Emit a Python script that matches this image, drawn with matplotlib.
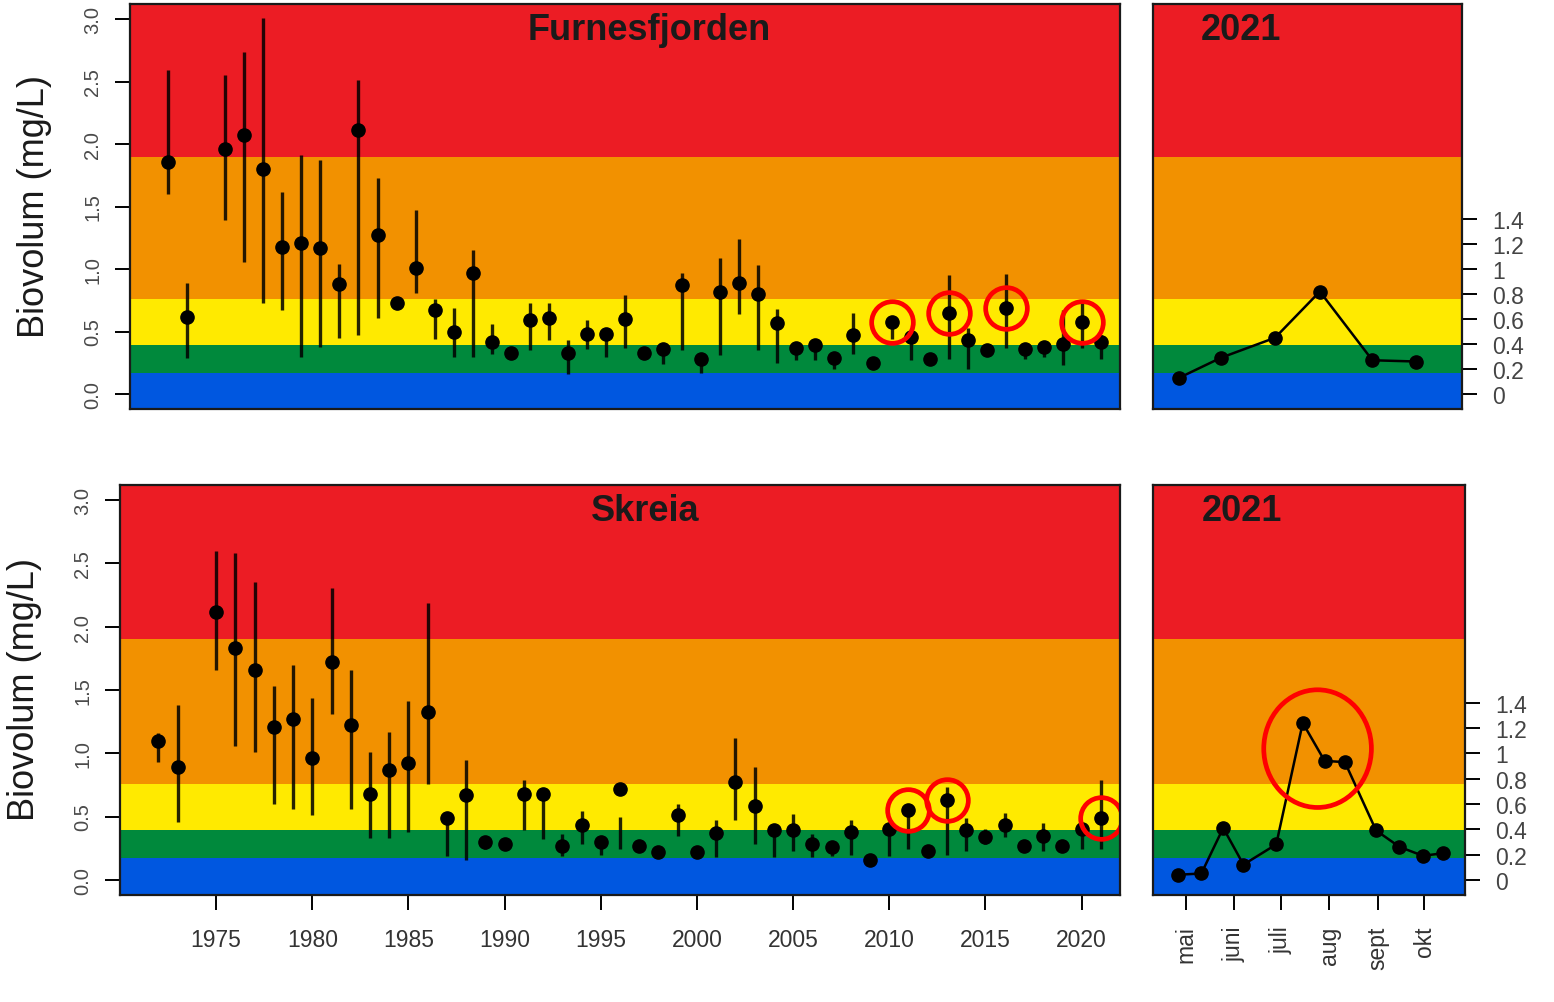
import numpy as np
import matplotlib
matplotlib.use("Agg")
import matplotlib.pyplot as plt
from matplotlib.patches import Ellipse

plt.rcParams['font.family'] = ['Liberation Sans', 'DejaVu Sans']

# klassegrenser for biovolum (mg/L) og farger
grenser = [0.17, 0.39, 0.76, 1.9]
farger = ['#0057E0', '#00893C', '#FFEA00', '#F29100', '#EC1C24']

# Furnesfjorden: årsmiddel med min/maks
aar_f = [1972, 1973] + list(range(1975, 2022))
snitt_f = [1.86, 0.62, 1.96, 2.07, 1.80, 1.18, 1.21, 1.17, 0.88, 2.11, 1.27, 0.73,
           1.01, 0.67, 0.50, 0.97, 0.42, 0.33, 0.59, 0.61, 0.33, 0.48, 0.48, 0.60,
           0.33, 0.36, 0.87, 0.28, 0.82, 0.89, 0.80, 0.57, 0.37, 0.39, 0.29, 0.47,
           0.25, 0.58, 0.46, 0.28, 0.65, 0.43, 0.35, 0.69, 0.36, 0.38, 0.40, 0.58, 0.42]
min_f = [1.60, 0.29, 1.39, 1.06, 0.73, 0.67, 0.30, 0.38, 0.45, 0.47, 0.61, np.nan,
         0.81, 0.44, 0.30, 0.30, 0.32, np.nan, 0.35, 0.43, 0.16, 0.36, 0.30, 0.37,
         np.nan, 0.24, 0.35, 0.17, 0.31, 0.64, 0.35, 0.25, 0.27, 0.27, 0.20, 0.32,
         np.nan, 0.44, 0.27, np.nan, 0.28, 0.20, np.nan, 0.37, 0.28, 0.30, 0.23, 0.37, 0.28]
maks_f = [2.59, 0.89, 2.55, 2.74, 3.01, 1.62, 1.91, 1.87, 1.04, 2.51, 1.73, np.nan,
          1.47, 0.76, 0.69, 1.15, 0.56, np.nan, 0.73, 0.73, 0.43, 0.59, 0.48, 0.79,
          np.nan, 0.41, 0.97, 0.28, 1.09, 1.24, 1.03, 0.68, 0.40, 0.41, 0.29, 0.65,
          np.nan, 0.58, 0.46, np.nan, 0.95, 0.53, np.nan, 0.96, 0.36, 0.42, 0.67, 0.73, 0.47]
merket_f = [2010, 2013, 2016, 2020]

# Skreia
aar_s = [1972, 1973] + list(range(1975, 2022))
snitt_s = [1.10, 0.89, 2.12, 1.83, 1.66, 1.21, 1.27, 0.96, 1.72, 1.22, 0.68, 0.87,
           0.92, 1.33, 0.49, 0.67, 0.30, 0.28, 0.68, 0.68, 0.27, 0.43, 0.30, 0.72,
           0.27, 0.22, 0.51, 0.22, 0.37, 0.77, 0.58, 0.39, 0.39, 0.28, 0.26, 0.38,
           0.16, 0.40, 0.55, 0.23, 0.63, 0.39, 0.34, 0.43, 0.27, 0.35, 0.27, 0.40, 0.49]
min_s = [0.93, 0.46, 1.66, 1.06, 1.01, 0.60, 0.56, 0.51, 1.31, 0.56, 0.33, 0.33,
         0.38, 0.76, 0.19, 0.16, 0.24, np.nan, 0.39, 0.32, 0.19, 0.28, 0.20, 0.24,
         np.nan, np.nan, 0.35, np.nan, 0.18, 0.47, 0.28, 0.18, 0.23, 0.18, 0.19, 0.20,
         np.nan, 0.19, 0.24, np.nan, 0.20, 0.23, 0.28, 0.34, np.nan, 0.23, np.nan, 0.24, 0.24]
maks_s = [1.16, 1.38, 2.60, 2.58, 2.35, 1.53, 1.70, 1.44, 2.31, 1.66, 1.01, 1.17,
          1.41, 2.19, 0.49, 0.95, 0.30, np.nan, 0.79, 0.70, 0.36, 0.54, 0.34, 0.50,
          np.nan, np.nan, 0.60, np.nan, 0.47, 1.12, 0.89, 0.39, 0.52, 0.36, 0.26, 0.47,
          np.nan, 0.40, 0.55, np.nan, 0.73, 0.49, 0.40, 0.53, np.nan, 0.45, np.nan, 0.40, 0.79]
merket_s = [2011, 2013, 2021]

# 2021-sesongen (dag i året)
dag_f21 = [117, 144, 179, 208, 242, 270]
verdi_f21 = [0.13, 0.29, 0.45, 0.82, 0.27, 0.26]
dag_s21 = [116, 131, 145, 158, 179, 196, 210, 223, 243, 258, 273, 286]
verdi_s21 = [0.04, 0.05, 0.41, 0.12, 0.28, 1.24, 0.94, 0.93, 0.39, 0.26, 0.19, 0.21]
topp_s21 = [5, 6, 7]

mnd_dag = [121, 152, 182, 213, 244, 274]
mnd_navn = ['mai', 'juni', 'juli', 'aug', 'sept', 'okt']
y_ticks = [0.0, 0.5, 1.0, 1.5, 2.0, 2.5, 3.0]
y_ticks21 = [0, 0.2, 0.4, 0.6, 0.8, 1.0, 1.2, 1.4]
y_tick_navn21 = ['0', '0.2', '0.4', '0.6', '0.8', '1', '1.2', '1.4']

W, H = 1554, 1003
fig = plt.figure(figsize=(W / 100, H / 100), dpi=100)
YLIM = (-0.12, 3.12)
tekstfarge = '#333333'


def bakgrunn(ax):
    kanter = [YLIM[0]] + grenser + [YLIM[1]]
    for i, f in enumerate(farger):
        ax.axhspan(kanter[i], kanter[i + 1], color=f, lw=0, zorder=0)
    ax.set_ylim(*YLIM)
    for s in ax.spines.values():
        s.set_linewidth(1.6)
        s.set_color('#1a1a1a')
        s.set_zorder(5)


def aarspanel(ax, aar, snitt, lo, hi, merket, navn, vis_x):
    bakgrunn(ax)
    aar = np.array(aar)
    snitt = np.array(snitt)
    lo = np.array(lo)
    hi = np.array(hi)
    ok = ~np.isnan(lo)
    ax.vlines(aar[ok], lo[ok], hi[ok], color='black', lw=2.4, alpha=0.85, zorder=2)
    ax.plot(aar, snitt, 'o', color='black', ms=9.5, zorder=3)
    # røde ringer rundt utvalgte år
    idx = [list(aar).index(a) for a in merket]
    ax.plot(aar[idx], snitt[idx], 'o', ms=30, mfc='none', mec='#FF0000', mew=3.4, zorder=4)
    ax.set_xlim(1970, 2022)
    ax.text(1997.3, 2.92, navn, fontsize=26, fontweight='bold', ha='center', va='center',
            color='#1a1a1a')
    ax.set_yticks(y_ticks)
    ax.set_yticklabels(['%.1f' % v for v in y_ticks], rotation=90, va='center',
                       fontsize=14.5, color='#4a4a4a')
    ax.tick_params(axis='y', direction='out', length=11, width=1.4, pad=9)
    if vis_x:
        ax.set_xticks(range(1975, 2021, 5))
        ax.tick_params(axis='x', direction='out', length=11, width=1.4, pad=13,
                       labelsize=16.5, labelcolor=tekstfarge)
    else:
        ax.set_xticks([])


def sesongpanel(ax, dag, verdi, vis_x):
    bakgrunn(ax)
    ax.plot(dag, verdi, '-o', color='black', lw=1.8, ms=9.5, zorder=3)
    ax.set_xlim(100, 300)
    ax.text(157, 2.92, '2021', fontsize=26, fontweight='bold', ha='center', va='center',
            color='#1a1a1a')
    ax.yaxis.tick_right()
    ax.set_yticks(y_ticks21)
    ax.set_yticklabels(y_tick_navn21, fontsize=16.5, color='#444444')
    ax.tick_params(axis='y', direction='out', length=11, width=1.4, pad=11)
    if vis_x:
        ax.set_xticks(mnd_dag)
        ax.set_xticklabels(mnd_navn, rotation=90, fontsize=16.5, color=tekstfarge)
        ax.tick_params(axis='x', direction='out', length=11, width=1.4, pad=11)
    else:
        ax.set_xticks([])


ax1 = fig.add_axes([130 / W, 1 - 410 / H, 990 / W, 405 / H])
ax2 = fig.add_axes([1153 / W, 1 - 410 / H, 309 / W, 405 / H])
ax3 = fig.add_axes([120 / W, 1 - 896 / H, 1000 / W, 410 / H])
ax4 = fig.add_axes([1153 / W, 1 - 896 / H, 312 / W, 410 / H])

aarspanel(ax1, aar_f, snitt_f, min_f, maks_f, merket_f, 'Furnesfjorden', False)
aarspanel(ax3, aar_s, snitt_s, min_s, maks_s, merket_s, 'Skreia', True)
sesongpanel(ax2, dag_f21, verdi_f21, False)
sesongpanel(ax4, dag_s21, verdi_s21, True)

# ellipse rundt toppen i Skreia 2021
tx = [dag_s21[i] for i in topp_s21]
ty = [verdi_s21[i] for i in topp_s21]
ax4.add_patch(Ellipse(((min(tx) + max(tx)) / 2 - 4, np.mean(ty)), 69, 0.93, fill=False,
                      ec='#FF0000', lw=3.4, zorder=4))

fig.text(35 / W, 1 - 207 / H, 'Biovolum (mg/L)', rotation=90, fontsize=26,
         ha='center', va='center', color='#1a1a1a')
fig.text(25 / W, 1 - 690 / H, 'Biovolum (mg/L)', rotation=90, fontsize=26,
         ha='center', va='center', color='#1a1a1a')

fig.savefig('out.png', dpi=100, facecolor='white')
